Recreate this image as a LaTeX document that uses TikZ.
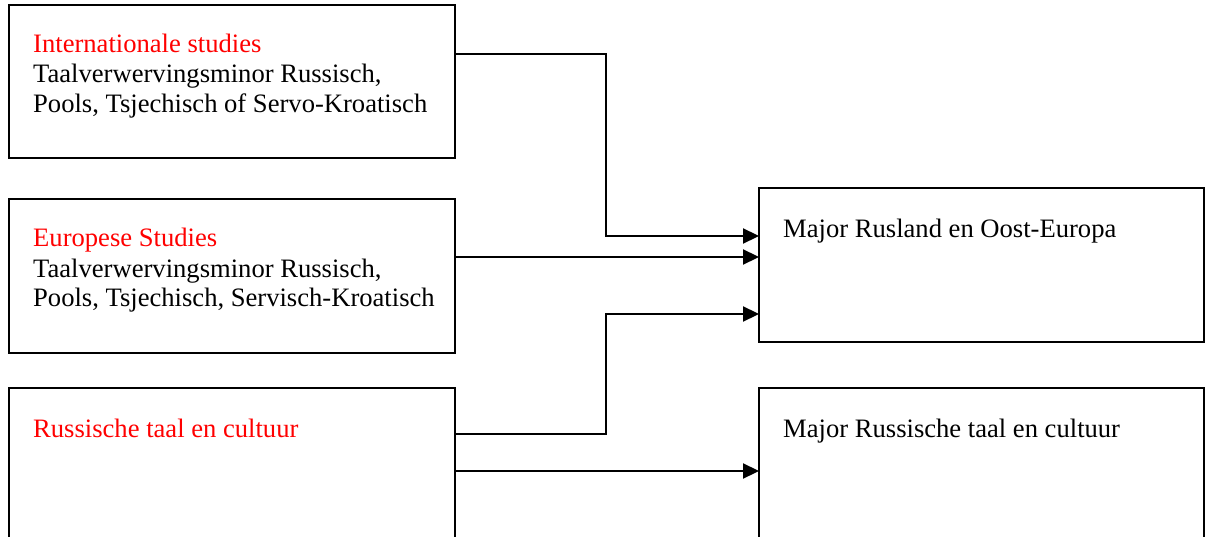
\documentclass[tikz,border=0pt]{standalone}
\usepackage{fontspec}
\setmainfont{Liberation Serif}
\usetikzlibrary{arrows.meta}
\definecolor{titlered}{RGB}{255,0,0}
\begin{document}
\begin{tikzpicture}[x=1pt,y=-1pt,
  box/.style={draw=black,line width=2.1pt,rectangle,inner sep=0pt,outer sep=0pt,anchor=north west},
  txt/.style={anchor=base west,inner sep=0pt,font=\fontsize{26.6}{30}\selectfont},
  ttl/.style={txt,text=titlered},
  arr/.style={line width=2.2pt,-{Triangle[length=16pt,width=15pt]}}]
\useasboundingbox (0,0) rectangle (1206,537);
\clip (0,0) rectangle (1206,537);
% boxes
\node[box,minimum width=446pt,minimum height=153pt] (b1) at (9,5) {};
\node[box,minimum width=446pt,minimum height=154pt] (b2) at (9,199) {};
\node[box,minimum width=446pt,minimum height=180pt] (b3) at (9,388) {};
\node[box,minimum width=445pt,minimum height=154pt] (b4) at (759,188) {};
\node[box,minimum width=445pt,minimum height=180pt] (b5) at (759,388) {};
% texts
\node[ttl] (t1a) at (33,53) {Internationale studies};
\node[txt] (t1b) at (33,83) {Taalverwervingsminor Russisch,};
\node[txt] (t1c) at (33,113) {Pools, Tsjechisch of Servo-Kroatisch};
\node[ttl] (t2a) at (33,247) {Europese Studies};
\node[txt] (t2b) at (33,277) {Taalverwervingsminor Russisch,};
\node[txt] (t2c) at (33,306) {Pools, Tsjechisch, Servisch-Kroatisch};
\node[ttl] (t3a) at (33,437) {Russische taal en cultuur};
\node[txt] (t4a) at (783,237) {Major Rusland en Oost-Europa};
\node[txt] (t5a) at (783,437) {Major Russische taal en cultuur};
% connectors
\coordinate (c1) at (606,54);
\coordinate (c2) at (606,236);
\coordinate (c3) at (606,434);
\coordinate (c4) at (606,314);
\draw[arr] (b1.east |- c1) -- (c1) -- (c2) -- (b4.west |- c2);
\draw[arr] (b2.east |- 0,257) -- (b4.west |- 0,257);
\draw[arr] (b3.east |- c3) -- (c3) -- (c4) -- (b4.west |- c4);
\draw[arr] (b3.east |- 0,471) -- (b5.west |- 0,471);
\end{tikzpicture}
\end{document}
